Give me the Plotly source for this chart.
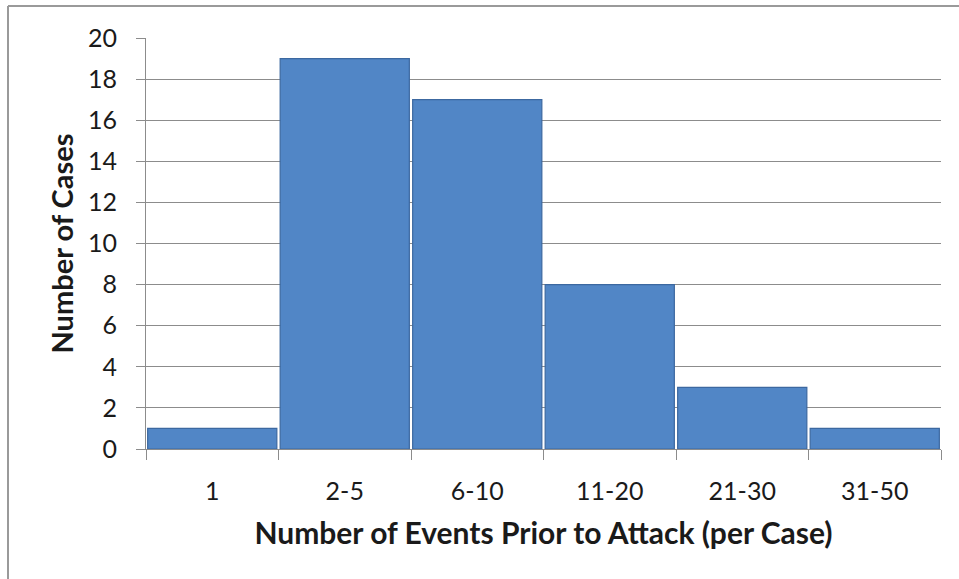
import plotly.graph_objects as go

categories = ["1", "2-5", "6-10", "11-20", "21-30", "31-50"]
cases = [1, 19, 17, 8, 3, 1]
y_ticks = list(range(0, 21, 2))

FONT = "Lato"
W, H = 959, 579
L, R, T, B = 146, 18, 38, 130
PW, PH = W - L - R, H - T - B

fig = go.Figure()
fig.add_trace(go.Bar(
    x=categories,
    y=cases,
    marker=dict(color="#5186C6", line=dict(color="#3C68A0", width=1.2)),
    hoverinfo="x+y",
))

fig.update_layout(
    width=W, height=H, autosize=False,
    margin=dict(l=L, r=R, t=T, b=B),
    paper_bgcolor="white", plot_bgcolor="white",
    bargap=0.025,
    showlegend=False,
    font=dict(family=FONT, color="#1a1a1a"),
    shapes=[
        dict(type="line", xref="paper", yref="paper",
             x0=(8 - L) / PW, x1=1 + R / PW, y0=1 + (T - 6) / PH, y1=1 + (T - 6) / PH,
             line=dict(color="#9a9a9a", width=2)),
        dict(type="line", xref="paper", yref="paper",
             x0=(8 - L) / PW, x1=(8 - L) / PW, y0=-B / PH, y1=1 + (T - 6) / PH,
             line=dict(color="#9a9a9a", width=2)),
    ],
)

fig.update_xaxes(
    type="category",
    tickson="boundaries",
    ticks="outside", ticklen=10, tickcolor="#8c8c8c", tickwidth=1,
    showline=True, linecolor="#8c8c8c", linewidth=1,
    showgrid=False,
    tickfont=dict(size=25, family=FONT, color="#1a1a1a"),
    ticklabelstandoff=20,
    title=dict(text="<b>Number of Events Prior to Attack (per Case)</b>",
               font=dict(size=30, family=FONT, color="#1a1a1a"), standoff=18),
)
fig.update_yaxes(
    range=[0, 20],
    tickvals=y_ticks,
    ticks="outside", ticklen=9, tickcolor="#8c8c8c", tickwidth=1,
    showline=True, linecolor="#8c8c8c", linewidth=1,
    showgrid=True, gridcolor="#8c8c8c", gridwidth=1,
    zeroline=False,
    tickfont=dict(size=25, family=FONT, color="#1a1a1a"),
    ticklabelstandoff=14,
    title=dict(text="<b>Number of Cases</b>",
               font=dict(size=29, family=FONT, color="#1a1a1a"), standoff=5),
)

fig.write_html("out.html", config={"displayModeBar": False},
               post_script="document.body.style.margin='0';")
